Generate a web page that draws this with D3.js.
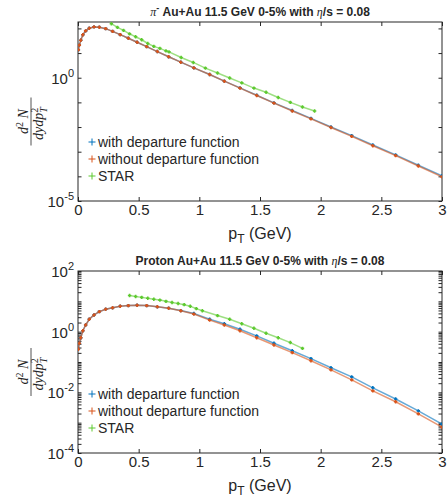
<!DOCTYPE html>
<html>
<head>
<meta charset="utf-8">
<script src="https://cdn.jsdelivr.net/npm/d3@7"></script>
<style>
body { margin: 0; background: #fff; }
text { font-family: "Liberation Sans", Arial, Helvetica, sans-serif; fill: #262626; }
</style>
</head>
<body>
<div id="chart"></div>
<script>
// pT grid of the hydro calculation (GeV), shared by both panels
const ptGrid = [0.003, 0.011, 0.023, 0.04, 0.063, 0.093, 0.132, 0.176, 0.228, 0.285, 0.348, 0.415,
  0.487, 0.566, 0.654, 0.747, 0.847, 0.955, 1.085, 1.206, 1.335, 1.473, 1.615, 1.766, 1.92,
  2.085, 2.256, 2.43, 2.618, 2.805, 3.0];

// pi- spectra
const pionWithout = [13.5, 20.9, 33.1, 55.0, 79.4, 102, 115, 112, 97.7, 75.9, 56.2, 39.8,
  27.5, 18.2, 11.5, 7.08, 4.27, 2.51, 1.35, 0.724, 0.380, 0.191, 0.0933, 0.0447, 0.0214,
  0.00955, 0.00417, 0.00174, 6.92e-4, 2.63e-4, 9.55e-5];
const pionWith = [13.5, 20.9, 33.1, 55.0, 79.4, 102, 115, 112, 97.7, 75.9, 56.2, 39.8,
  27.5, 18.2, 11.5, 7.08, 4.27, 2.51, 1.35, 0.724, 0.389, 0.195, 0.0955, 0.0468, 0.0224,
  0.0100, 0.00447, 0.00186, 7.41e-4, 2.82e-4, 1.05e-4];
const pionStarPt = [0.275, 0.325, 0.375, 0.425, 0.475, 0.525, 0.575, 0.625, 0.675, 0.725, 0.75,
  0.85, 0.95, 1.05, 1.15, 1.25, 1.35, 1.45, 1.55, 1.65, 1.75, 1.85, 1.95];
const pionStar = [155, 110, 83.2, 60.3, 45.7, 34.7, 24.5, 18.6, 15.5, 12.3, 11.2,
  6.6, 4.17, 2.45, 1.55, 0.977, 0.617, 0.380, 0.257, 0.158, 0.100, 0.0646, 0.0447];

// proton spectra
const protonWithout = [0.263, 0.417, 0.631, 1.07, 1.66, 2.57, 3.55, 4.57, 5.50, 6.17, 6.92, 7.24,
  7.41, 7.24, 6.61, 5.89, 4.90, 3.80, 2.40, 1.66, 1.07, 0.631, 0.363, 0.204, 0.110,
  0.0550, 0.0257, 0.0112, 0.0049, 0.00195, 7.08e-4];
const protonWith = [0.263, 0.417, 0.631, 1.07, 1.66, 2.57, 3.55, 4.57, 5.50, 6.17, 6.92, 7.24,
  7.41, 7.24, 6.61, 5.89, 4.95, 3.98, 2.57, 1.82, 1.20, 0.724, 0.417, 0.234, 0.129,
  0.0646, 0.0324, 0.0141, 0.00603, 0.00245, 8.91e-4];
const protonStarPt = [0.425, 0.475, 0.525, 0.575, 0.625, 0.675, 0.725, 0.775, 0.825, 0.875, 0.925,
  0.975, 1.025, 1.15, 1.25, 1.35, 1.45, 1.55, 1.65, 1.75, 1.85];
const protonStar = [15.5, 14.5, 13.5, 12.6, 11.7, 11.0, 10.0, 9.12, 8.51, 7.76, 6.92,
  5.75, 4.90, 3.39, 2.57, 1.82, 1.29, 0.891, 0.631, 0.437, 0.282];

const xTicks = [0, 0.5, 1, 1.5, 2, 2.5, 3];
const pionLabelExps = [-5, 0];
const protonLabelExps = [-4, -2, 0, 2];
const seriesNames = ["with departure function", "without departure function", "STAR"];
const seriesColors = ["#0072BD", "#D95319", "#5cc92e"];

const W = 447, H = 501;
const left = 78, right = 442;

const svg = d3.select("#chart").append("svg")
    .attr("width", W)
    .attr("height", H);

const x = d3.scaleLinear().domain([0, 3]).range([left, right]);

const panels = [
  {id: "pion", particle: "pi", top: 22, bottom: 201, yDomain: [1e-5, Math.pow(10, 2.26)],
   labelExps: pionLabelExps, decadesOnly: true,
   series: [d3.zip(ptGrid, pionWith), d3.zip(ptGrid, pionWithout), d3.zip(pionStarPt, pionStar)]},
  {id: "proton", particle: "Proton", top: 271, bottom: 453, yDomain: [1e-4, 1e2],
   labelExps: protonLabelExps, decadesOnly: false,
   series: [d3.zip(ptGrid, protonWith), d3.zip(ptGrid, protonWithout), d3.zip(protonStarPt, protonStar)]}
];

panels.forEach(drawPanel);

function drawPanel(p) {
    const y = d3.scaleLog().domain(p.yDomain).range([p.bottom, p.top]);
    const g = svg.append("g").attr("class", "panel-" + p.id);

    g.append("clipPath").attr("id", "clip-" + p.id)
      .append("rect")
      .attr("x", left).attr("y", p.top)
      .attr("width", right - left).attr("height", p.bottom - p.top);

    // ticks: x every 0.5, y every decade (plus 2..9 when not decadesOnly)
    let yTicks = y.ticks();
    if (p.decadesOnly) yTicks = yTicks.filter(v => Math.abs(Math.log10(v) - Math.round(Math.log10(v))) < 1e-9);

    g.append("g")
      .attr("transform", `translate(0,${p.bottom})`)
      .call(d3.axisBottom(x).tickValues(xTicks).tickSizeInner(-4).tickSizeOuter(0).tickPadding(3).tickFormat(d => d))
      .call(a => a.select(".domain").remove())
      .call(a => a.selectAll("line").attr("stroke", "#262626"))
      .call(a => a.selectAll("text").attr("font-size", 15).attr("fill", "#262626")
          .style("font-family", '"Liberation Sans", Arial, sans-serif'));

    g.append("g")
      .attr("transform", `translate(0,${p.top})`)
      .call(d3.axisTop(x).tickValues(xTicks).tickSizeInner(-4).tickSizeOuter(0).tickFormat(""))
      .call(a => a.select(".domain").remove())
      .call(a => a.selectAll("line").attr("stroke", "#262626"));

    [["left", d3.axisLeft, left], ["right", d3.axisRight, right]].forEach(([side, ax, pos]) => {
        g.append("g")
          .attr("transform", `translate(${pos},0)`)
          .call(ax(y).tickValues(yTicks).tickSizeInner(-3.5).tickSizeOuter(0).tickFormat(""))
          .call(a => a.select(".domain").remove())
          .call(a => a.selectAll("line").attr("stroke", "#262626"));
    });

    // y labels as 10^n
    const yl = g.selectAll(".ylab").data(p.labelExps).enter()
      .append("text")
      .attr("class", "ylab")
      .attr("x", left - 4)
      .attr("y", d => y(Math.pow(10, d)) + 6)
      .attr("text-anchor", "end")
      .attr("font-size", 15);
    yl.append("tspan").text("10");
    yl.append("tspan").attr("font-size", 11).attr("dy", -7).text(d => d);

    // box
    g.append("rect")
      .attr("x", left).attr("y", p.top)
      .attr("width", right - left).attr("height", p.bottom - p.top)
      .attr("fill", "none")
      .attr("stroke", "#262626")
      .attr("stroke-width", 1);

    const line = d3.line().x(d => x(d[0])).y(d => y(d[1]));
    const plot = g.append("g").attr("clip-path", `url(#clip-${p.id})`);

    p.series.forEach((pts, i) => {
        plot.append("path")
          .datum(pts)
          .attr("fill", "none")
          .attr("stroke", seriesColors[i])
          .attr("stroke-opacity", 0.6)
          .attr("stroke-width", 1.5)
          .attr("d", line);
        plot.selectAll(".mk" + i).data(pts).enter()
          .append("path")
          .attr("class", "mk" + i)
          .attr("transform", d => `translate(${x(d[0])},${y(d[1])})`)
          .attr("d", "M-1.7,0H1.7M0,-1.7V1.7")
          .attr("stroke", seriesColors[i])
          .attr("stroke-width", 1.6);
    });

    // legend
    const legend = g.selectAll(".legend").data(seriesNames).enter()
      .append("g")
      .attr("class", "legend")
      .attr("transform", (d, i) => `translate(92,${p.bottom - 59 + i * 17})`);
    legend.append("path")
      .attr("d", "M-3.5,0H3.5M0,-3.5V3.5")
      .attr("stroke", (d, i) => seriesColors[i])
      .attr("stroke-width", 1);
    legend.append("text")
      .attr("x", 6)
      .attr("y", 5)
      .attr("font-size", 14)
      .text(d => d);

    // x label
    const xl = g.append("text")
      .attr("x", (left + right) / 2)
      .attr("y", p.bottom + 38)
      .attr("text-anchor", "middle")
      .attr("font-size", 16);
    xl.append("tspan").text("p");
    xl.append("tspan").attr("font-size", 12).attr("dy", 4).text("T");
    xl.append("tspan").attr("dy", -4).text(" (GeV)");

    // title
    const t = g.append("text")
      .attr("x", (left + right) / 2)
      .attr("y", p.top - 6)
      .attr("text-anchor", "middle")
      .attr("font-size", 12)
      .attr("font-weight", "bold");
    if (p.particle === "pi") {
        t.append("tspan").style("font-family", '"Liberation Serif", serif').attr("font-style", "italic")
          .attr("font-weight", "normal").text("π");
        t.append("tspan").attr("font-size", 9).attr("dy", -5).text("-");
        t.append("tspan").attr("dy", 5).text(" Au+Au 11.5 GeV 0-5% with ");
    } else {
        t.append("tspan").text("Proton Au+Au 11.5 GeV 0-5% with ");
    }
    t.append("tspan").style("font-family", '"Liberation Serif", serif').attr("font-style", "italic")
      .attr("font-weight", "normal").text("η");
    t.append("tspan").text("/s = 0.08");

    // y label: d^2N / dy dpT^2
    const yc = (p.top + p.bottom) / 2 + 10;
    const lab = g.append("g").attr("transform", `translate(31,${yc}) rotate(-90)`);
    const num = lab.append("text").attr("x", 0).attr("y", -3).attr("text-anchor", "middle")
      .attr("font-size", 14).style("font-family", '"Liberation Serif", serif').attr("font-style", "italic");
    num.append("tspan").text("d");
    num.append("tspan").attr("font-size", 10).attr("font-style", "normal").attr("dy", -5).text("2");
    num.append("tspan").attr("dy", 5).text(" N");
    lab.append("line").attr("x1", -24).attr("x2", 24).attr("y1", 0).attr("y2", 0)
      .attr("stroke", "#262626").attr("stroke-width", 0.8);
    const den = lab.append("text").attr("x", -2).attr("y", 12).attr("text-anchor", "middle")
      .attr("font-size", 14).style("font-family", '"Liberation Serif", serif').attr("font-style", "italic");
    den.append("tspan").text("dydp");
    den.append("tspan").attr("font-size", 10).attr("font-style", "normal").attr("dy", -5).text("2");
    den.append("tspan").attr("font-size", 10).attr("dx", -5).attr("dy", 9).text("T");
}
</script>
</body>
</html>
